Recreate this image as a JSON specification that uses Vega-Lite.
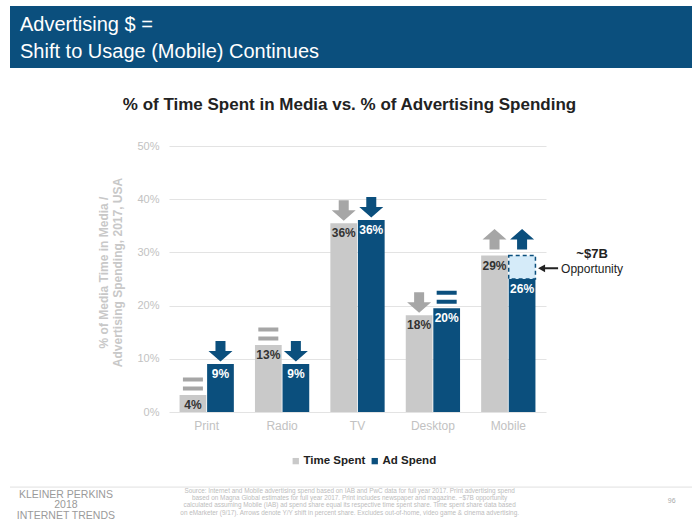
{
  "$schema": "https://vega.github.io/schema/vega-lite/v6.json",
  "padding": {"left": 9, "top": 6, "right": 9, "bottom": 0},
  "background": "white",
  "spacing": 5,
  "resolve": {"legend": {"color": "independent", "shape": "independent"}, "scale": {"color": "independent", "x": "independent", "y": "independent"}},
  "config": {
    "font": "Liberation Sans",
    "view": {"stroke": null}
  },
  "datasets": {
    "bars": [
      {"category": "Print", "series": "Time Spent", "value": 3.2, "label": "4%"},
      {"category": "Print", "series": "Ad Spend", "value": 9.0, "label": "9%"},
      {"category": "Radio", "series": "Time Spent", "value": 12.6, "label": "13%"},
      {"category": "Radio", "series": "Ad Spend", "value": 9.0, "label": "9%"},
      {"category": "TV", "series": "Time Spent", "value": 35.5, "label": "36%"},
      {"category": "TV", "series": "Ad Spend", "value": 36.1, "label": "36%"},
      {"category": "Desktop", "series": "Time Spent", "value": 18.2, "label": "18%"},
      {"category": "Desktop", "series": "Ad Spend", "value": 19.5, "label": "20%"},
      {"category": "Mobile", "series": "Time Spent", "value": 29.4, "label": "29%"},
      {"category": "Mobile", "series": "Ad Spend", "value": 25.0, "label": "26%"}
    ],
    "shifts": [
      {"category": "Print", "series": "Time Spent", "shift": "equal", "level": 3.2},
      {"category": "Print", "series": "Ad Spend", "shift": "down", "level": 9.0},
      {"category": "Radio", "series": "Time Spent", "shift": "equal", "level": 12.6},
      {"category": "Radio", "series": "Ad Spend", "shift": "down", "level": 9.0},
      {"category": "TV", "series": "Time Spent", "shift": "down", "level": 35.5},
      {"category": "TV", "series": "Ad Spend", "shift": "down", "level": 36.1},
      {"category": "Desktop", "series": "Time Spent", "shift": "down", "level": 18.2},
      {"category": "Desktop", "series": "Ad Spend", "shift": "equal", "level": 19.5},
      {"category": "Mobile", "series": "Time Spent", "shift": "up", "level": 29.4},
      {"category": "Mobile", "series": "Ad Spend", "shift": "up", "level": 29.4}
    ],
    "opportunity": [
      {"category": "Mobile", "series": "Ad Spend", "from": 25.0, "to": 29.4, "mid": 27.0}
    ],
    "notes": [
      {"category": "Mobile", "series": "Ad Spend", "level": 29.7, "text": "~$7B", "kind": "amount"},
      {"category": "Mobile", "series": "Ad Spend", "level": 26.9, "text": "Opportunity", "kind": "caption"}
    ]
  },
  "vconcat": [
    {
      "width": 682,
      "height": 62,
      "view": {"fill": "#0b4f7d", "stroke": null},
      "data": {"values": [{"lines": "banner"}]},
      "mark": {"type": "text", "align": "left", "baseline": "top", "dx": 10, "dy": 9, "fontSize": 20, "lineHeight": 27, "color": "#ffffff"},
      "encoding": {
        "x": {"datum": 0, "type": "quantitative", "scale": {"domain": [0, 1]}, "axis": null},
        "y": {"datum": 1, "type": "quantitative", "scale": {"domain": [0, 1]}, "axis": null},
        "text": {"value": ["Advertising $ =", "Shift to Usage (Mobile) Continues"]}
      }
    },
    {
      "width": 1,
      "height": 18,
      "data": {"values": []},
      "mark": "rect",
      "encoding": {}
    },
    {
      "bounds": "flush",
      "spacing": 0,
      "resolve": {"legend": {"color": "independent", "shape": "independent"}, "scale": {"color": "independent"}},
      "hconcat": [
        {
          "width": 159,
          "height": 266,
          "data": {"values": []},
          "mark": "rect",
          "encoding": {}
        },
        {
          "width": 377,
          "height": 266,
          "title": {
            "text": "% of Time Spent in Media vs. % of Advertising Spending",
            "frame": "group",
            "anchor": "middle",
            "dx": -8,
            "offset": 26,
            "fontSize": 17,
            "fontWeight": "bold",
            "color": "#222222"
          },
          "encoding": {
            "x": {
              "field": "category",
              "type": "nominal",
              "scale": {"domain": ["Print", "Radio", "TV", "Desktop", "Mobile"], "paddingInner": 0.28, "paddingOuter": 0.14},
              "axis": {"title": null, "labelAngle": 0, "labelColor": "#c2c2c2", "labelFontSize": 12, "domain": false, "ticks": false, "labelPadding": 8}
            },
            "xOffset": {
              "field": "series",
              "type": "nominal",
              "scale": {"domain": ["Time Spent", "Ad Spend"], "paddingInner": 0.03}
            }
          },
          "layer": [
            {
              "data": {"name": "bars"},
              "mark": {"type": "bar"},
              "encoding": {
                "y": {
                  "field": "value",
                  "type": "quantitative",
                  "scale": {"domain": [0, 50], "nice": false},
                  "axis": {
                    "values": [0, 10, 20, 30, 40, 50],
                    "labelExpr": "datum.value + '%'",
                    "domain": false,
                    "ticks": false,
                    "labelPadding": 10,
                    "labelColor": "#c2c2c2",
                    "labelFontSize": 11,
                    "gridColor": "#e3e3e3",
                    "title": ["% of Media Time in Media /", "Advertising Spending, 2017, USA"],
                    "titleColor": "#c8c8c8",
                    "titleFontSize": 12,
                    "titleFontWeight": "bold",
                    "titleY": 126,
                    "titlePadding": 12
                  }
                },
                "color": {
                  "field": "series",
                  "type": "nominal",
                  "scale": {"domain": ["Time Spent", "Ad Spend"], "range": ["#c9c9c9", "#0b4f7d"]},
                  "legend": {
                    "title": null,
                    "orient": "none",
                    "legendX": 121,
                    "legendY": 309,
                    "direction": "horizontal",
                    "symbolType": "square",
                    "symbolSize": 40,
                    "symbolStrokeWidth": 0,
                    "labelFontSize": 11.5,
                    "labelFontWeight": "bold",
                    "labelColor": "#222222",
                    "columnPadding": 3,
                    "labelOffset": 2
                  }
                }
              }
            },
            {
              "data": {"name": "opportunity"},
              "mark": {"type": "bar", "fill": "#d5ebf9", "stroke": "#0b4f7d", "strokeDash": [4, 3], "strokeWidth": 1.5},
              "encoding": {
                "y": {"field": "from", "type": "quantitative"},
                "y2": {"field": "to"}
              }
            },
            {
              "data": {"name": "bars"},
              "mark": {"type": "text", "baseline": "top", "dy": 5, "fontSize": 12, "fontWeight": "bold"},
              "encoding": {
                "y": {"field": "value", "type": "quantitative"},
                "text": {"field": "label"},
                "color": {"condition": {"test": "datum.series === 'Ad Spend'", "value": "#ffffff"}, "value": "#333333"}
              }
            },
            {
              "data": {"name": "shifts"},
              "mark": {"type": "point", "filled": true, "size": 400, "strokeWidth": 0, "opacity": 1},
              "encoding": {
                "y": {"field": "level", "type": "quantitative"},
                "shape": {
                  "field": "shift",
                  "type": "nominal",
                  "scale": {
                    "domain": ["down", "up", "equal"],
                    "range": [
                      "M-0.5,-2.3L0.5,-2.3L0.5,-1.3L1.2,-1.3L0,-0.25L-1.2,-1.3L-0.5,-1.3Z",
                      "M-0.5,-0.6L0.5,-0.6L0.5,-1.6L1.2,-1.6L0,-2.65L-1.2,-1.6L-0.5,-1.6Z",
                      "M-1,-1.75L1,-1.75L1,-1.35L-1,-1.35Z M-1,-0.85L1,-0.85L1,-0.45L-1,-0.45Z"
                    ]
                  },
                  "legend": null
                },
                "fill": {"condition": {"test": "datum.series === 'Ad Spend'", "value": "#0b4f7d"}, "value": "#a6a6a6"}
              }
            },
            {
              "data": {"name": "opportunity"},
              "mark": {"type": "point", "filled": true, "size": 400, "strokeWidth": 0, "opacity": 1, "color": "#222222",
                "shape": "M1.6,0L2.3,-0.38L2.3,-0.1L3.6,-0.1L3.6,0.1L2.3,0.1L2.3,0.38Z"},
              "encoding": {
                "y": {"field": "mid", "type": "quantitative"}
              }
            },
            {
              "data": {"name": "notes"},
              "transform": [{"filter": "datum.kind === 'amount'"}],
              "mark": {"type": "text", "dx": 70, "baseline": "middle", "fontSize": 13, "fontWeight": "bold", "color": "#222222"},
              "encoding": {
                "y": {"field": "level", "type": "quantitative"},
                "text": {"field": "text"}
              }
            },
            {
              "data": {"name": "notes"},
              "transform": [{"filter": "datum.kind === 'caption'"}],
              "mark": {"type": "text", "dx": 70, "baseline": "middle", "fontSize": 12, "color": "#222222"},
              "encoding": {
                "y": {"field": "level", "type": "quantitative"},
                "text": {"field": "text"}
              }
            }
          ]
        }
      ]
    },
    {
      "width": 682,
      "height": 58,
      "data": {"values": [{"part": "footer"}]},
      "encoding": {
        "x": {"datum": 0, "type": "quantitative", "scale": {"domain": [0, 1]}, "axis": null},
        "y": {"datum": 0.74, "type": "quantitative", "scale": {"domain": [0, 1]}, "axis": null}
      },
      "layer": [
        {
          "mark": {"type": "rule", "color": "#e0e0e0", "strokeWidth": 1},
          "encoding": {
            "x2": {"datum": 1}
          }
        },
        {
          "mark": {"type": "text", "align": "center", "baseline": "top", "fontSize": 10.5, "lineHeight": 10.5, "color": "#9a9a9a"},
          "encoding": {
            "x": {"datum": 0.082, "type": "quantitative"},
            "y": {"datum": 0.69, "type": "quantitative"},
            "text": {"value": ["KLEINER PERKINS", "2018", "INTERNET TRENDS"]}
          }
        },
        {
          "mark": {"type": "text", "align": "center", "baseline": "top", "fontSize": 6.4, "lineHeight": 7.2, "color": "#bdbdbd"},
          "encoding": {
            "x": {"datum": 0.498, "type": "quantitative"},
            "y": {"datum": 0.724, "type": "quantitative"},
            "text": {"value": [
              "Source: Internet and Mobile advertising spend based on IAB and PwC data for full year 2017. Print advertising spend",
              "based on Magna Global estimates for full year 2017. Print includes newspaper and magazine. ~$7B opportunity",
              "calculated assuming Mobile (IAB) ad spend share equal its respective time spent share. Time spent share data based",
              "on eMarketer (9/17). Arrows denote Y/Y shift in percent share. Excludes out-of-home, video game & cinema advertising."
            ]}
          }
        },
        {
          "mark": {"type": "text", "align": "right", "baseline": "middle", "fontSize": 7, "color": "#aaaaaa"},
          "encoding": {
            "x": {"datum": 0.976, "type": "quantitative"},
            "y": {"datum": 0.5, "type": "quantitative"},
            "text": {"value": "96"}
          }
        }
      ]
    }
  ]
}
